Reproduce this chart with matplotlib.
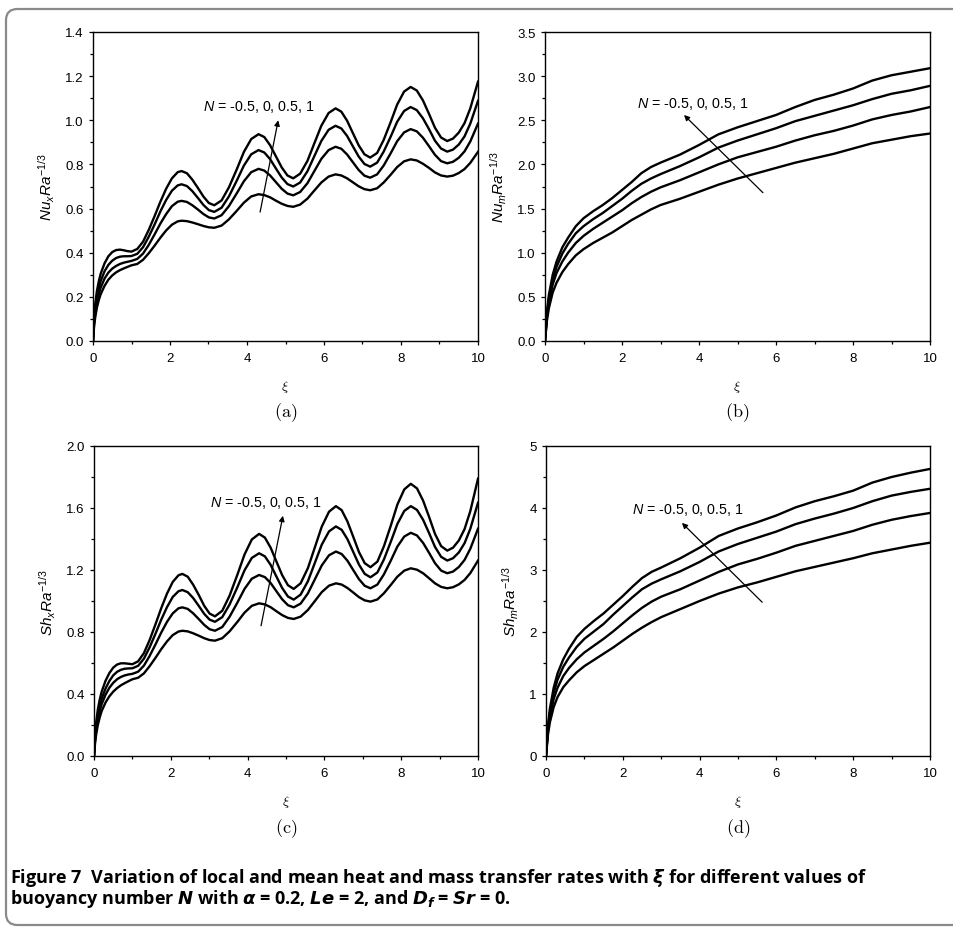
import numpy as np
import matplotlib
matplotlib.use("Agg")
import matplotlib.pyplot as plt
from matplotlib.patches import FancyBboxPatch
from matplotlib.ticker import MultipleLocator, FormatStrFormatter

plt.rcParams["font.family"] = ["Liberation Sans", "DejaVu Sans"]
plt.rcParams["mathtext.fontset"] = "custom"
plt.rcParams["mathtext.rm"] = "Liberation Sans"
plt.rcParams["mathtext.it"] = "Liberation Sans:italic"
plt.rcParams["mathtext.bf"] = "Liberation Sans:bold"

N_LABEL = r"$\mathit{N}$ = -0.5, 0, 0.5, 1"

# ---- local rates (a), (c) ----
xi_loc = [0, 0.03, 0.06, 0.1, 0.15, 0.2, 0.3, 0.4, 0.5, 0.6, 0.7, 0.8, 0.9, 1.0,
          1.15, 1.3, 1.45, 1.6, 1.75, 1.9, 2.05, 2.2, 2.3,
          2.44, 2.58, 2.73, 2.87, 3.01, 3.15,
          3.34, 3.53, 3.73, 3.92, 4.11, 4.3,
          4.45, 4.6, 4.75, 4.9, 5.05, 5.2,
          5.38, 5.57, 5.75, 5.93, 6.12, 6.3,
          6.45, 6.6, 6.75, 6.9, 7.05, 7.2,
          7.38, 7.55, 7.73, 7.9, 8.08, 8.25,
          8.41, 8.57, 8.73, 8.88, 9.04, 9.2,
          9.35, 9.5, 9.65, 9.8, 10.0]

nux_m05 = [0, .07, .11, .15, .185, .212, .25, .278, .297, .311, .321, .329, .336, .343,
           .349, .368, .398, .432, .468, .501, .527, .542, .545,
           .543, .537, .529, .521, .515, .513,
           .523, .551, .589, .627, .655, .665,
           .661, .651, .636, .622, .612, .608,
           .618, .645, .682, .718, .745, .755,
           .750, .737, .719, .701, .688, .683,
           .692, .718, .753, .788, .814, .823,
           .818, .803, .784, .764, .750, .745,
           .749, .761, .779, .807, .857]
nux_0 = [0, .085, .13, .175, .212, .242, .283, .31, .328, .34, .349, .355, .359, .363,
         .372, .396, .436, .483, .532, .575, .611, .631, .635,
         .630, .615, .595, .575, .560, .555,
         .570, .611, .668, .724, .765, .780,
         .772, .750, .720, .690, .668, .660,
         .675, .715, .770, .825, .865, .880,
         .871, .845, .810, .775, .749, .740,
         .755, .795, .850, .905, .945, .960,
         .950, .921, .882, .844, .815, .805,
         .812, .830, .859, .904, .985]
nux_05 = [0, .1, .15, .2, .24, .272, .316, .345, .364, .376, .382, .384, .384, .385,
          .395, .425, .473, .528, .587, .639, .681, .705, .71,
          .702, .679, .647, .616, .593, .585,
          .604, .655, .725, .795, .846, .865,
          .854, .824, .782, .741, .711, .70,
          .718, .769, .838, .906, .957, .975,
          .963, .929, .882, .836, .802, .79,
          .808, .858, .925, .993, 1.042, 1.06,
          1.046, 1.009, .959, .908, .872, .858,
          .867, .890, .927, .985, 1.088]
nux_1 = [0, .115, .17, .225, .27, .305, .352, .384, .403, .412, .414, .411, .407, .405,
         .417, .450, .504, .566, .631, .690, .737, .765, .77,
         .760, .731, .692, .654, .625, .615,
         .637, .696, .776, .857, .915, .937,
         .924, .887, .837, .787, .750, .737,
         .758, .816, .896, .975, 1.033, 1.054,
         1.039, .998, .942, .887, .846, .831,
         .852, .911, .991, 1.071, 1.130, 1.151,
         1.135, 1.090, 1.028, .967, .922, .906,
         .917, .944, .987, 1.054, 1.175]

shx_m05 = [0, .09, .145, .2, .25, .29, .345, .385, .415, .438, .456, .47, .483, .495,
           .505, .533, .580, .633, .689, .739, .780, .803, .808,
           .804, .792, .776, .760, .748, .744,
           .760, .804, .864, .925, .969, .985,
           .978, .960, .934, .909, .891, .884,
           .899, .942, .999, 1.057, 1.099, 1.114,
           1.106, 1.084, 1.055, 1.025, 1.004, .996,
           1.010, 1.050, 1.104, 1.157, 1.196, 1.211,
           1.202, 1.179, 1.146, 1.114, 1.091, 1.082,
           1.089, 1.107, 1.136, 1.18, 1.261]
shx_0 = [0, .11, .17, .235, .29, .335, .395, .44, .472, .495, .51, .52, .526, .53,
         .544, .583, .646, .719, .796, .865, .920, .953, .959,
         .949, .921, .883, .846, .818, .808,
         .832, .898, .988, 1.078, 1.144, 1.168,
         1.154, 1.116, 1.063, 1.011, .973, .959,
         .983, 1.049, 1.139, 1.229, 1.295, 1.319,
         1.303, 1.260, 1.200, 1.141, 1.098, 1.082,
         1.106, 1.172, 1.261, 1.351, 1.416, 1.44,
         1.423, 1.375, 1.309, 1.244, 1.196, 1.179,
         1.19, 1.219, 1.265, 1.337, 1.466]
shx_05 = [0, .125, .19, .26, .32, .37, .435, .484, .52, .543, .556, .563, .565, .566,
          .582, .628, .702, .788, .879, .960, 1.026, 1.063, 1.071,
          1.057, 1.020, .968, .917, .880, .866,
          .896, .977, 1.087, 1.198, 1.278, 1.308,
          1.288, 1.233, 1.158, 1.084, 1.029, 1.009,
          1.041, 1.127, 1.245, 1.363, 1.449, 1.481,
          1.459, 1.399, 1.317, 1.235, 1.175, 1.153,
          1.184, 1.268, 1.383, 1.497, 1.581, 1.612,
          1.588, 1.524, 1.436, 1.349, 1.285, 1.261,
          1.276, 1.313, 1.373, 1.466, 1.634]
shx_1 = [0, .15, .225, .3, .365, .415, .485, .535, .57, .59, .598, .598, .595, .592,
         .611, .664, .749, .849, .953, 1.047, 1.123, 1.166, 1.175,
         1.157, 1.106, 1.038, .969, .919, .901,
         .937, 1.034, 1.167, 1.300, 1.397, 1.433,
         1.409, 1.344, 1.255, 1.167, 1.102, 1.078,
         1.114, 1.212, 1.345, 1.479, 1.576, 1.612,
         1.586, 1.513, 1.415, 1.316, 1.244, 1.218,
         1.254, 1.353, 1.487, 1.622, 1.720, 1.756,
         1.727, 1.648, 1.540, 1.433, 1.354, 1.325,
         1.344, 1.39, 1.464, 1.58, 1.789]

# ---- mean rates (b), (d) ----
xi_mean = [0, 0.05, 0.1, 0.2, 0.3, 0.45, 0.6, 0.8, 1.0, 1.25, 1.5, 1.75, 2.0, 2.25,
           2.5, 2.75, 3.0, 3.5, 4.0, 4.5, 5.0, 5.5, 6.0, 6.5, 7.0, 7.5, 8.0, 8.5,
           9.0, 9.5, 10.0]

num_m05 = [0, 0.23, 0.37, 0.55, 0.66, 0.78, 0.87, 0.97, 1.04, 1.11, 1.17, 1.23, 1.30,
           1.37, 1.43, 1.49, 1.54, 1.61, 1.69, 1.77, 1.84, 1.90, 1.96, 2.02, 2.07,
           2.12, 2.18, 2.24, 2.28, 2.32, 2.35]
num_0 = [0, 0.27, 0.43, 0.64, 0.77, 0.90, 1.00, 1.11, 1.19, 1.27, 1.34, 1.41, 1.48,
         1.56, 1.63, 1.69, 1.74, 1.82, 1.91, 2.00, 2.08, 2.14, 2.20, 2.27, 2.33,
         2.38, 2.44, 2.51, 2.56, 2.60, 2.65]
num_05 = [0, 0.30, 0.48, 0.70, 0.84, 0.99, 1.10, 1.22, 1.30, 1.38, 1.45, 1.53, 1.61,
          1.70, 1.78, 1.84, 1.89, 1.98, 2.08, 2.19, 2.27, 2.34, 2.41, 2.49, 2.55,
          2.61, 2.67, 2.74, 2.80, 2.84, 2.89]
num_1 = [0, 0.33, 0.52, 0.75, 0.90, 1.06, 1.17, 1.30, 1.39, 1.47, 1.54, 1.62, 1.71,
         1.80, 1.90, 1.97, 2.02, 2.11, 2.22, 2.34, 2.42, 2.49, 2.56, 2.65, 2.73,
         2.79, 2.86, 2.95, 3.01, 3.05, 3.09]

shm_m05 = [0, 0.34, 0.54, 0.79, 0.95, 1.11, 1.22, 1.35, 1.45, 1.55, 1.65, 1.75, 1.86,
           1.97, 2.07, 2.16, 2.24, 2.37, 2.50, 2.62, 2.72, 2.80, 2.89, 2.98, 3.05,
           3.12, 3.19, 3.27, 3.33, 3.39, 3.44]
shm_0 = [0, 0.40, 0.63, 0.92, 1.10, 1.29, 1.42, 1.56, 1.67, 1.78, 1.89, 2.01, 2.14,
         2.27, 2.39, 2.49, 2.57, 2.69, 2.83, 2.97, 3.09, 3.18, 3.28, 3.39, 3.47,
         3.55, 3.63, 3.73, 3.81, 3.87, 3.92]
shm_05 = [0, 0.44, 0.70, 1.02, 1.23, 1.44, 1.59, 1.76, 1.89, 2.01, 2.13, 2.28, 2.42,
          2.56, 2.69, 2.78, 2.85, 2.98, 3.13, 3.30, 3.42, 3.52, 3.62, 3.74, 3.83,
          3.91, 4.00, 4.11, 4.20, 4.26, 4.31]
shm_1 = [0, 0.48, 0.76, 1.10, 1.33, 1.56, 1.73, 1.92, 2.05, 2.18, 2.30, 2.44, 2.58,
         2.73, 2.87, 2.97, 3.04, 3.19, 3.36, 3.55, 3.67, 3.77, 3.88, 4.01, 4.11,
         4.19, 4.28, 4.41, 4.50, 4.57, 4.63]

W, H = 954, 929
fig = plt.figure(figsize=(W / 100, H / 100), dpi=100)


def px_axes(x0, y0, x1, y1):
    return fig.add_axes([x0 / W, 1 - y1 / H, (x1 - x0) / W, (y1 - y0) / H])


panels = [
    # axes box (px), x data, curves, ylim, ticks, ylabel, tag, label text / arrow
    dict(box=(93, 33, 478, 342), x=xi_loc, ys=[nux_m05, nux_0, nux_05, nux_1],
         ylim=1.4, major=0.2, minor=0.1, fmt="%.1f",
         ylabel=r"$\mathit{Nu_{x}Ra^{-1/3}}$", tag="(a)",
         txt=(2.86, 1.065), tail=(4.34, 0.584), head=(4.81, 1.0)),
    dict(box=(545, 33, 930, 342), x=xi_mean, ys=[num_m05, num_0, num_05, num_1],
         ylim=3.5, major=0.5, minor=0.25, fmt="%.1f",
         ylabel=r"$\mathit{Nu_{m}Ra^{-1/3}}$", tag="(b)",
         txt=(2.39, 2.70), tail=(5.66, 1.68), head=(3.61, 2.56)),
    dict(box=(94, 447, 478, 757), x=xi_loc, ys=[shx_m05, shx_0, shx_05, shx_1],
         ylim=2.0, major=0.4, minor=0.2, fmt="%.1f",
         ylabel=r"$\mathit{Sh_{x}Ra^{-1/3}}$", tag="(c)",
         txt=(3.02, 1.64), tail=(4.35, 0.84), head=(4.92, 1.55)),
    dict(box=(546, 447, 930, 757), x=xi_mean, ys=[shm_m05, shm_0, shm_05, shm_1],
         ylim=5.0, major=1.0, minor=0.5, fmt="%d",
         ylabel=r"$\mathit{Sh_{m}Ra^{-1/3}}$", tag="(d)",
         txt=(2.24, 3.98), tail=(5.63, 2.48), head=(3.54, 3.76)),
]

for p in panels:
    ax = px_axes(*p["box"])
    for y in p["ys"]:
        ax.plot(p["x"], y, color="k", lw=1.7, solid_joinstyle="round")
    ax.set_xlim(0, 10)
    ax.set_ylim(0, p["ylim"])
    ax.xaxis.set_major_locator(MultipleLocator(2))
    ax.xaxis.set_minor_locator(MultipleLocator(1))
    ax.yaxis.set_major_locator(MultipleLocator(p["major"]))
    ax.yaxis.set_minor_locator(MultipleLocator(p["minor"]))
    ax.yaxis.set_major_formatter(FormatStrFormatter(p["fmt"]))
    ax.tick_params(which="both", direction="out", top=False, right=False,
                   labelsize=9.5, width=0.9)
    ax.tick_params(which="major", length=3.2)
    ax.tick_params(which="minor", length=2.0)
    ax.tick_params(axis="x", pad=5)
    ax.tick_params(axis="y", pad=3.5)
    for s in ax.spines.values():
        s.set_linewidth(1.0)

    ax.set_ylabel(p["ylabel"], fontsize=11, labelpad=6)
    ax.set_xlabel(r"$\xi$", fontsize=10, math_fontfamily="cm")
    ax.xaxis.set_label_coords(0.5, -0.12)
    ax.text(0.5, -0.23, r"$\mathrm{%s}$" % p["tag"], transform=ax.transAxes,
            ha="center", va="center", fontsize=13, math_fontfamily="cm")

    ax.text(p["txt"][0], p["txt"][1], N_LABEL, fontsize=10.3, ha="left",
            va="center")
    ax.annotate("", xy=p["head"], xytext=p["tail"],
                arrowprops=dict(arrowstyle="-|>", lw=0.9, color="k",
                                mutation_scale=8, shrinkA=0, shrinkB=0))

# caption
cap1 = (r"Figure 7  Variation of local and mean heat and mass transfer rates with "
        r"$\mathbfit{\xi}$ for different values of")
cap2 = (r"buoyancy number $\mathbfit{N}$ with $\mathbfit{\alpha}$ = 0.2, "
        r"$\mathbfit{Le}$ = 2, and $\mathbfit{D_f}$ = $\mathbfit{Sr}$ = 0.")
for yy, cap in [(878, cap1), (899, cap2)]:
    fig.text(10 / W, 1 - yy / H, cap, fontsize=13.0, fontweight="bold",
             family="Open Sans", ha="left", va="center",
             math_fontfamily="dejavusans")

# rounded frame
frame = FancyBboxPatch((6 / W, 1 - 926 / H), 1.2, (926 - 10) / H,
                       boxstyle="round,pad=0,rounding_size=0.012",
                       transform=fig.transFigure, fill=False,
                       edgecolor="#8a8a8a", lw=1.6, clip_on=False)
fig.patches.append(frame)

fig.savefig("out.png", dpi=100)
